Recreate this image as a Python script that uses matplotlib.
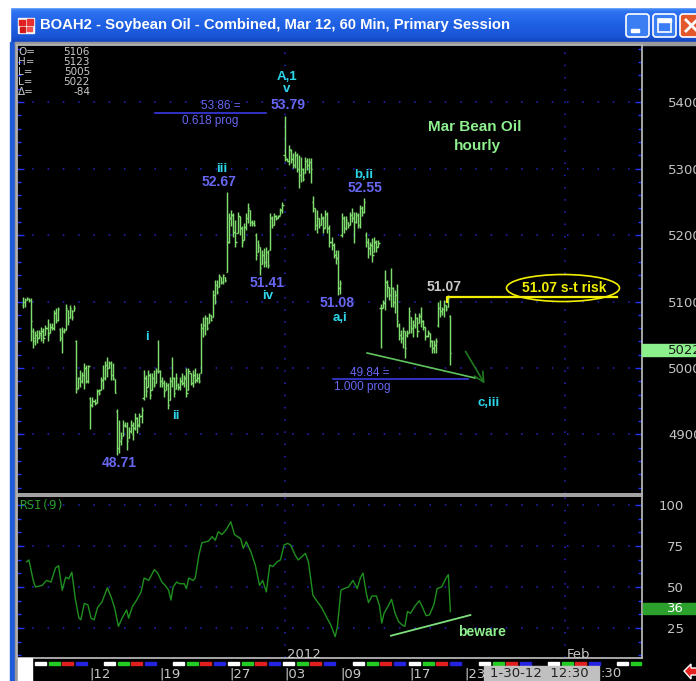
import numpy as np
import matplotlib
matplotlib.use('Agg')
import matplotlib.pyplot as plt
from matplotlib.collections import LineCollection
from matplotlib.patches import Rectangle, Ellipse, FancyBboxPatch, Polygon
from matplotlib.ticker import FixedLocator, MultipleLocator
from matplotlib.colors import LinearSegmentedColormap

# ---------------- data (prices in cents, hourly bars) ----------------
highs = [5107,5105,5107,5105,5105,5060,5055,5057,5057,5062,5060,5065,5073,5067,5067,5087,5090,5092,5060,5062,
         5060,5096,5087,5095,5087,5095,5042,4987,4997,4994,5007,5005,5005,4957,4957,4954,4969,4969,4987,5005,
         5010,5016,5010,5010,5007,4984,4939,4922,4904,4922,4919,4919,4912,4922,4919,4932,4927,4932,4942,4997,
         4989,4997,4992,4992,4997,5000,5042,4997,4987,4982,4979,4977,4987,5017,4987,4992,4977,4987,4992,4989,
         5000,5000,4992,4997,5000,4992,4992,5067,5077,5080,5077,5082,5080,5117,5132,5132,5142,5137,5142,5137,
         5265,5233,5238,5233,5223,5235,5228,5213,5218,5233,5248,5238,5223,5223,5203,5193,5182,5177,5180,5182,
         5177,5233,5228,5233,5230,5230,5240,5250,5379,5316,5336,5329,5324,5326,5324,5320,5318,5301,5318,5316,
         5316,5316,5258,5240,5238,5225,5233,5228,5238,5235,5215,5197,5188,5177,5177,5132,5233,5228,5228,5220,
         5235,5240,5235,5235,5233,5245,5243,5255,5205,5195,5190,5195,5197,5193,5193,5097,5102,5147,5132,5122,
         5150,5122,5117,5127,5067,5057,5062,5055,5057,5092,5077,5072,5082,5077,5082,5092,5072,5062,5057,5052,
         5042,5042,5045,5100,5102,5092,5102,5095,5110,5080]
lows = [5090,5092,5102,5100,5040,5030,5035,5037,5045,5040,5037,5050,5040,5052,5057,5057,5067,5070,5040,5023,
        5052,5057,5065,5075,5072,5085,4962,4969,4972,4977,4969,4977,4977,4908,4942,4944,4947,4959,4967,4969,
        4982,4987,5000,4982,4982,4962,4869,4872,4884,4897,4912,4877,4894,4902,4892,4907,4902,4912,4917,4952,
        4957,4972,4954,4967,4972,4977,4992,4972,4972,4957,4967,4939,4952,4972,4957,4969,4967,4967,4974,4972,
        4957,4967,4974,4972,4977,4979,4977,4992,5047,5050,5057,5067,5070,5077,5097,5112,5122,5127,5127,5130,
        5145,5188,5213,5197,5182,5203,5200,5182,5193,5208,5218,5213,5213,5213,5162,5175,5140,5157,5152,5152,
        5150,5177,5210,5215,5223,5225,5230,5233,5311,5311,5306,5308,5301,5301,5295,5270,5279,5281,5293,5298,
        5293,5278,5235,5208,5203,5210,5215,5203,5210,5203,5182,5177,5165,5157,5110,5112,5197,5203,5208,5210,
        5215,5220,5188,5218,5210,5210,5228,5233,5182,5165,5170,5160,5175,5175,5182,5030,5090,5087,5107,5102,
        5092,5092,5082,5062,5042,5037,5030,5015,5047,5052,5052,5047,5060,5047,5067,5062,5057,5042,5047,5032,
        5022,5022,5022,5062,5077,5080,5077,5085,5092,5005]
opens = [5095,5100,5103,5104,5102,5055,5040,5050,5045,5050,5055,5050,5060,5052,5062,5060,5083,5072,5058,5045,
         5055,5057,5087,5075,5087,5085,5040,4970,4985,4980,4990,5000,4980,4955,4945,4950,4947,4965,4967,4982,
         4985,5005,5000,5008,4990,4984,4935,4880,4890,4897,4915,4913,4894,4905,4900,4910,4925,4915,4928,4955,
         4985,4972,4990,4967,4985,4977,4995,4995,4980,4977,4967,4975,4952,4980,4985,4969,4975,4972,4980,4977,
         4985,4967,4992,4978,4990,4982,4985,4992,5060,5065,5075,5067,5080,5077,5110,5125,5122,5137,5130,5137,
         5145,5190,5225,5230,5205,5203,5228,5210,5193,5212,5225,5238,5220,5218,5200,5175,5182,5157,5170,5160,
         5175,5177,5225,5215,5228,5225,5230,5237,5320,5315,5312,5328,5315,5305,5320,5300,5290,5300,5293,5312,
         5305,5310,5250,5240,5215,5225,5215,5225,5210,5232,5210,5190,5185,5170,5165,5120,5200,5225,5210,5220,
         5215,5230,5225,5220,5230,5215,5240,5235,5200,5190,5180,5185,5175,5190,5182,5090,5090,5098,5130,5122,
         5110,5120,5100,5110,5065,5050,5045,5055,5050,5052,5077,5060,5065,5075,5067,5078,5070,5062,5048,5052,
         5040,5030,5035,5065,5090,5085,5088,5095,5092,5078]
closes = [5100,5103,5105,5102,5070,5045,5050,5045,5052,5055,5045,5060,5050,5062,5060,5083,5072,5088,5045,5055,
          5057,5090,5070,5090,5077,5090,4969,4985,4980,4990,5000,4980,5003,4945,4950,4947,4965,4962,4982,4985,
          5005,5000,5008,4990,4985,4962,4880,4890,4895,4915,4913,4890,4905,4915,4910,4925,4915,4928,4937,4985,
          4965,4990,4960,4985,4975,4995,4995,4980,4977,4965,4975,4945,4980,4985,4962,4985,4972,4980,4977,4985,
          4962,4995,4978,4990,4982,4985,4980,5060,5065,5075,5060,5080,5072,5110,5125,5115,5138,5130,5140,5133,
          5190,5225,5230,5205,5190,5228,5210,5190,5212,5225,5240,5220,5218,5215,5170,5185,5150,5170,5160,5175,
          5155,5225,5215,5228,5225,5228,5237,5245,5318,5312,5330,5315,5305,5320,5300,5290,5300,5285,5312,5305,
          5310,5300,5240,5215,5225,5215,5225,5210,5232,5210,5190,5185,5170,5165,5120,5128,5225,5210,5222,5215,
          5230,5225,5220,5230,5215,5240,5235,5250,5190,5180,5185,5170,5190,5182,5188,5090,5098,5130,5125,5110,
          5120,5100,5110,5070,5050,5045,5055,5030,5052,5085,5060,5065,5075,5055,5078,5070,5062,5048,5052,5040,
          5030,5035,5040,5090,5085,5088,5095,5088,5106,5022]

# RSI(9): bar position and value
rsi_bar = [1.8,2.9,5.0,6.1,9.4,11.5,13.7,15.9,17.4,19.2,20.9,22.4,23.9,25.7,27.4,28.3,30.0,31.8,33.3,34.8,
           36.5,38.7,41.3,43.1,44.8,46.7,48.5,50.7,51.7,53.5,55.6,57.8,59.3,61.5,64.3,65.9,68.0,69.6,71.3,72.4,
           73.5,75.2,76.7,78.9,80.0,81.1,83.2,84.3,86.1,87.6,90.8,92.6,94.1,95.6,97.4,99.5,101.7,103.5,105.0,106.5,
           107.8,109.3,111.5,113.7,115.8,117.3,119.1,120.8,122.3,124.5,126.0,127.8,129.5,131.0,133.2,134.7,136.5,138.2,139.7,141.9,
           144.1,146.2,148.4,150.6,152.8,153.9,155.6,157.1,159.3,161.5,163.6,165.1,166.4,168.0,169.1,170.8,173.0,174.5,175.6,176.7,
           178.8,180.4,182.1,183.8,185.4,186.9,188.2,189.7,191.9,194.0,195.6,197.3,199.0,201.2,202.7,204.9,207.1,208.2,209.2]
rsi_val = [65.4,66.5,54,50,51,54,53,61.6,63,48,56,55,59,42,31,30,40,39,31,30,
           37.5,41,49.5,44,37.5,26,31,36,31,38,42,47,55.5,54,60.6,58.5,53,51,48,42,
           50,53,52,52,49,55.5,54,55.5,69.5,77,78,80.7,78.5,83.7,82,85,89.8,82,80.7,79.5,
           73.6,77.6,71.6,63.4,51,54,47,63.4,62.5,65.5,66.5,75.6,76.6,75.6,69.5,66.5,68.5,70.5,65.4,45,
           41,37.4,32,27,19.7,26,48,49,50,54,49,55.5,58.5,46.5,40.5,44.5,44.5,38.5,28,34,
           38.5,42.5,34,29,27,26,35,34,38.5,41.6,37.5,32.5,33,39.6,49,50,55.5,57.5,35]

date_labels = ['|12', '|19', '|27', '|03', '|09', '|17', '|23']
date_pos = [32.3, 66.6, 100.8, 127.8, 155.2, 188.9, 215.9]
month_pos = [128.2, 265.3]
month_labels = ['2012', 'Feb']
price_ticks = [4900, 5000, 5100, 5200, 5300, 5400]
rsi_ticks = [25, 50, 75, 100]
ohlc_names = ['O=', 'H=', 'L=', 'L=', '\u0394=']
ohlc_vals = ['5106', '5123', '5005', '5022', '-84']
last_price = 5022
last_rsi = 36
fib_618 = 5384
fib_100 = 4984
risk_level = 5107

# ---------------- figure ----------------
W, H = 696, 681
fig = plt.figure(figsize=(W / 100, H / 100), dpi=100, facecolor='black')


def fbox(x0, y0, x1, y1):
    return [x0 / W, 1 - y1 / H, (x1 - x0) / W, (y1 - y0) / H]


# background chrome
bg = fig.add_axes([0, 0, 1, 1], zorder=-5)
bg.set_axis_off()
cm = LinearSegmentedColormap.from_list('t', [(0, '#4f95fb'), (0.12, '#2c72f0'), (0.5, '#1f60e3'),
                                             (0.85, '#1a55d6'), (1, '#1246c0')])
bg.imshow(np.linspace(0, 1, 40)[:, None], extent=(10, 696, 42, 7), cmap=cm, aspect='auto')
bg.add_patch(Rectangle((0, 0), 696, 7, color='white'))
bg.add_patch(Rectangle((0, 0), 10, 681, color='white'))
bg.add_patch(Rectangle((10, 42), 6, 639, color='#1f5bd8'))
bg.add_patch(Rectangle((15, 42), 681, 3, color='#9a9a9a'))
bg.add_patch(Rectangle((15, 42), 2, 639, color='#9a9a9a'))
bg.set_xlim(0, W)
bg.set_ylim(H, 0)

SPINE = '#b4b4b4'
TICKC = '#2233ff'
GRIDC = '#2626c8'
BARC = '#7fdc6e'
LBL = '#6767f2'
CYAN = '#2ed6ea'
FONT = ['Liberation Sans', 'DejaVu Sans']

# ---------------- price panel ----------------
ax = fig.add_axes(fbox(17, 45, 642, 494), facecolor='black')
n = len(highs)
xi = np.arange(n)
segs = []
for i in range(n):
    segs.append([(xi[i], lows[i]), (xi[i], highs[i])])
    segs.append([(xi[i] - 0.6, opens[i]), (xi[i], opens[i])])
    segs.append([(xi[i], closes[i]), (xi[i] + 0.6, closes[i])])
ax.add_collection(LineCollection(segs, colors=BARC, linewidths=1.05))
ax.set_xlim(-2.94, 302.98)
ax.set_ylim(4810.5, 5485.8)
for p in price_ticks:
    ax.axhline(p, color=GRIDC, lw=1.1, ls=(0, (1, 9)), zorder=0)
for m in month_pos:
    ax.axvline(m, color=GRIDC, lw=1.1, ls=(0, (1, 7)), zorder=0)
ax.yaxis.set_major_locator(FixedLocator(price_ticks))
ax.yaxis.set_minor_locator(MultipleLocator(20))
ax.set_xticks([])
ax.tick_params(axis='y', which='both', direction='in', left=True, right=True,
               labelleft=False, labelright=True, color=TICKC, width=1)
ax.tick_params(axis='y', which='major', length=5, pad=19, labelsize=9.5, labelcolor='#c4c4c4')
ax.tick_params(axis='y', which='minor', length=3)
for s in ax.spines.values():
    s.set_color(SPINE)
    s.set_linewidth(1.3)

# fib projections
ax.plot([64.6, 118.9], [fib_618, fib_618], color='#3a3ae6', lw=1.2)
ax.text(106.7, 5394, '53.86 =', color=LBL, fontsize=8.5, ha='right', va='center', family=FONT)
ax.text(91.5, 5372, '0.618 prog', color=LBL, fontsize=8.5, ha='center', va='center', family=FONT)
ax.plot([151.7, 217.8], [fib_100, fib_100], color='#3a3ae6', lw=1.2)
ax.text(169.8, 4993, '49.84 =', color=LBL, fontsize=8.5, ha='center', va='center', family=FONT)
ax.text(166.0, 4972, '1.000 prog', color=LBL, fontsize=8.5, ha='center', va='center', family=FONT)

# wave labels
def lab(x, y, s, c, size=9.5, weight='bold'):
    ax.text(x, y, s, color=c, fontsize=size, ha='center', va='center', fontweight=weight, family=FONT)

lab(129.2, 5438, 'A,1', CYAN)
lab(129.2, 5419, 'v', CYAN)
lab(129.7, 5395, '53.79', LBL, 10)
lab(97.4, 5299, 'iii', CYAN)
lab(95.9, 5280, '52.67', LBL, 10)
lab(119.4, 5128, '51.41', LBL, 10)
lab(119.9, 5108, 'iv', CYAN)
lab(153.7, 5098, '51.08', LBL, 10)
lab(155.2, 5075, 'a,i', CYAN)
lab(60.7, 5047, 'i', CYAN)
lab(74.9, 4928, 'ii', CYAN)
lab(47.0, 4857, '48.71', LBL, 10)
lab(166.9, 5290, 'b,ii', CYAN)
lab(167.4, 5271, '52.55', LBL, 10)
lab(206.1, 5122, '51.07', '#c8c8c8', 10)
lab(228.1, 4947, 'c,iii', CYAN)
lab(221.2, 5363, 'Mar Bean Oil', '#8ef08e', 11)
lab(222.2, 5334, 'hourly', '#8ef08e', 11)

# short-term risk
ax.plot([207.5, 207.5, 290.7], [5100, risk_level, risk_level], color='#f2f000', lw=1.6)
ax.add_patch(Ellipse((264.3, 5120.3), 55.3, 40.6, fill=False, ec='#f2f000', lw=1.2))
lab(264.8, 5120, '51.07 s-t risk', '#f2f000', 10)

# trendline and arrow
ax.plot([168.4, 221.2], [5022.6, 4985.0], color='#5ec45e', lw=1.2)
ax.annotate('', xy=(226.6, 4972.9), xytext=(215.9, 5028.6),
            arrowprops=dict(arrowstyle='->,head_length=0.7,head_width=0.35', color='#1f7a1f', lw=1.2))

# ---------------- RSI panel ----------------
ar = fig.add_axes(fbox(17, 496, 642, 658), facecolor='black')
ar.plot(rsi_bar, rsi_val, color='#1f901f', lw=1.0)
ar.set_xlim(-2.94, 302.98)
ar.set_ylim(6.7, 105.5)
for r in rsi_ticks:
    ar.axhline(r, color=GRIDC, lw=1.1, ls=(0, (1, 9)), zorder=0)
for m in month_pos:
    ar.axvline(m, color=GRIDC, lw=1.1, ls=(0, (1, 7)), zorder=0)
ar.yaxis.set_major_locator(FixedLocator(rsi_ticks))
ar.yaxis.set_minor_locator(MultipleLocator(25 / 3))
ar.tick_params(axis='y', which='both', direction='in', left=True, right=True,
               labelleft=False, labelright=True, color=TICKC, width=1)
ar.tick_params(axis='y', which='major', length=5, pad=30, labelsize=9.5, labelcolor='#c4c4c4')
ar.tick_params(axis='y', which='minor', length=3)
for t in ar.get_yticklabels():
    t.set_horizontalalignment('right')
ar.set_xticks(date_pos)
ar.set_xticklabels(date_labels)
ar.tick_params(axis='x', length=0, pad=6.5, labelsize=9.5, labelcolor='#c8c8c8')
for t in ar.get_xticklabels():
    t.set_horizontalalignment('left')
for s in ar.spines.values():
    s.set_color(SPINE)
    s.set_linewidth(1.3)
for m, ml in zip(month_pos, month_labels):
    ar.text(m + 0.8, 0.0, ml, transform=ar.get_xaxis_transform(), color='#c8c8c8',
            fontsize=9.5, ha='left', va='baseline')
ar.text(0.003, 0.94, 'RSI(9)', transform=ar.transAxes, color='#2a9a2a', fontsize=9,
        family='DejaVu Sans Mono', ha='left', va='center')
ar.plot([180.1, 219.0], [20.3, 32.9], color='#7ee07e', lw=1.3)
ar.text(224.7, 22.6, 'beware', color='#8ef08e', fontsize=10, fontweight='bold',
        ha='center', va='center', family=FONT)

# ---------------- foreground chrome ----------------
fg = fig.add_axes([0, 0, 1, 1], zorder=20)
fg.set_axis_off()
fg.patch.set_alpha(0)
fg.set_xlim(0, W)
fg.set_ylim(H, 0)

fg.text(40, 25, 'BOAH2 - Soybean Oil - Combined, Mar 12, 60 Min, Primary Session', color='white',
        fontsize=10.7, fontweight='bold', family=FONT, ha='left', va='center')
# icon
fg.add_patch(Rectangle((18, 18), 16, 15, color='#f4f4f4'))
fg.add_patch(Rectangle((19, 20), 6, 5, color='#e02020'))
fg.add_patch(Rectangle((27, 19), 6, 6, color='#e83030'))
fg.add_patch(Rectangle((20, 27), 5, 5, color='#d01818'))
fg.add_patch(Rectangle((27, 27), 5, 4, color='#f05050'))
# buttons
for x0, fc in [(626, '#3b7ef4'), (653, '#3b7ef4'), (680, '#e2582c')]:
    fg.add_patch(FancyBboxPatch((x0, 14), 23, 23, boxstyle='round,pad=0,rounding_size=3',
                                fc=fc, ec='white', lw=1.2))
fg.add_patch(Rectangle((631, 29), 8, 3, color='white'))
fg.add_patch(Rectangle((658, 19), 13, 13, fill=False, ec='white', lw=1.2))
fg.add_patch(Rectangle((658, 19), 13, 3, color='white'))
fg.plot([686, 697], [20, 31], color='white', lw=2)
fg.plot([686, 697], [31, 20], color='white', lw=2)

# OHLC readout
for k, (nm, v) in enumerate(zip(ohlc_names, ohlc_vals)):
    fg.text(18, 52 + 10 * k, nm, color='#c8c8c8', fontsize=7.5, ha='left', va='center')
    fg.text(90, 52 + 10 * k, v, color='#c8c8c8', fontsize=7.5, ha='right', va='center')

# last value boxes
fg.add_patch(Rectangle((642, 344), 54, 12, color='#8cf08c'))
fg.text(668, 350, str(last_price), color='#1a1a1a', fontsize=9.5, ha='left', va='center')
fg.add_patch(Rectangle((643, 603), 53, 11, color='#2ca02c'))
fg.text(684, 608.5, str(last_rsi), color='white', fontsize=9.5, ha='right', va='center')

# session strip
for g in [35, 104, 173, 228, 283, 353, 409, 479, 548, 617]:
    for j, c in enumerate(['#ffffff', '#22cc22', '#e02020', '#2424e0']):
        x0 = g + 13.5 * j
        if x0 < 641:
            fg.add_patch(Rectangle((x0, 661.5), min(11, 641 - x0), 3, color=c))
# bottom widgets
fg.add_patch(Rectangle((18, 658), 14, 23, color='white'))
fg.add_patch(Rectangle((484, 666), 115, 15, color='#c0c0c0'))
fg.text(490, 673.5, '1-30-12  12:30', color='#222222', fontsize=9.5, ha='left', va='center')
fg.text(600, 673.5, ':30', color='#c8c8c8', fontsize=9.5, ha='left', va='center')
fg.add_patch(Polygon([(684, 671), (691, 664), (691, 668), (700, 668), (700, 675), (691, 675), (691, 679)],
                     closed=True, fc='#e82020', ec='white', lw=1))

fig.savefig('out.png', dpi=100, facecolor='black')
